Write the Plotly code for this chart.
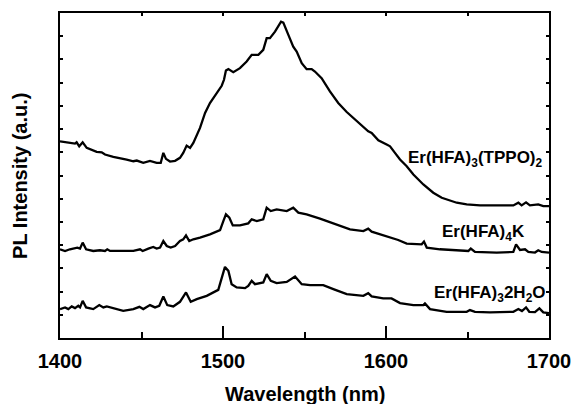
import plotly.graph_objects as go

# Wavelength (nm) and PL intensity (a.u.)
wl_tppo = [1400, 1409.2, 1410.2, 1411.8, 1413.9, 1416.4, 1422.5, 1425.6, 1427.6, 1432.7, 1440.9, 1445, 1447.1,
           1451.1, 1455.2, 1459.3, 1461.8, 1463.4, 1465, 1467.5, 1470.6, 1473.6, 1475.6, 1477.7, 1479.8, 1481.8,
           1485.9, 1489, 1492, 1496.1, 1499.2, 1500.6, 1501.8, 1503.3, 1506.3, 1510.4, 1514.5, 1517.6, 1521.7,
           1524.7, 1526.8, 1528.8, 1531.9, 1535.6, 1537, 1540.1, 1543.1, 1545.2, 1548.3, 1551.3, 1554.4, 1556.4,
           1560.5, 1565.6, 1570.7, 1575.9, 1581, 1586.1, 1589.1, 1591.2, 1595.3, 1600.4, 1602.5, 1605.5, 1608.6,
           1612.7, 1616.8, 1622.9, 1629, 1634.2, 1643.4, 1649.5, 1657.7, 1667.9, 1678.1, 1681.2, 1683.2, 1685.9,
           1688.3, 1693.4, 1696.5, 1700]
pl_tppo = [197.3, 195, 196.3, 192.3, 196.3, 190.7, 186.7, 186.3, 184, 181.7, 179, 177.3, 178,
           175.7, 177.7, 175.7, 175.7, 185.7, 179.7, 177, 177.7, 180.7, 185.7, 193, 190.7, 195.7,
           210.7, 225.7, 235.7, 245.7, 253, 259, 268.3, 269.7, 266.7, 270.7, 277.3, 284, 284,
           289, 300.7, 300.7, 307.3, 317.3, 316.3, 304, 292.3, 287.3, 275.7, 269.7, 269.7, 267.3,
           260.7, 247.3, 235.7, 226.7, 219, 212.3, 207.3, 205.7, 198.3, 194, 192.3, 185.7, 179,
           172.3, 164, 154, 145.7, 140.7, 135.7, 134, 133, 133, 133, 135.7, 133, 136,
           133, 134, 132.3, 132.3]

wl_k = [1400, 1403.1, 1406.1, 1409.2, 1410.6, 1412.3, 1413.9, 1416, 1420.4, 1424.5, 1427.6, 1429, 1430.7,
        1436.8, 1445, 1449.1, 1450.7, 1454.2, 1457.2, 1459.3, 1461.4, 1463.4, 1465.5, 1467.9, 1470.6, 1473.6,
        1475.6, 1477.3, 1479.3, 1481.8, 1485.9, 1492, 1498.2, 1500.2, 1501.8, 1503.9, 1506, 1510.4, 1515.5,
        1517.6, 1520.7, 1524.7, 1526.8, 1529.3, 1532.9, 1539.1, 1543.1, 1546.2, 1551.3, 1559.5, 1569.8, 1577.9,
        1586.1, 1589.1, 1591.2, 1600.4, 1607.5, 1612.7, 1621.9, 1623.3, 1625, 1633.1, 1645.4, 1650.5, 1652,
        1654.6, 1667.9, 1678.1, 1679.8, 1682.2, 1685.3, 1687.3, 1691.4, 1693.4, 1695.5, 1700]
pl_k = [89, 87.3, 89, 89.7, 90.7, 89.7, 95.7, 89, 87.3, 88, 87.3, 89, 87.3,
        87.3, 87.3, 89, 87.3, 89.7, 91.3, 89.7, 90.7, 97.3, 92.3, 90.7, 92.3, 97.3,
        99, 103, 97.3, 99, 100.7, 104, 108.3, 117.3, 124, 120.7, 113, 113, 115,
        119, 117.3, 119, 130.7, 127.3, 129, 127.3, 130.7, 125.7, 124, 119.7, 114, 109,
        107.3, 109.7, 106.7, 102.3, 98.3, 94.7, 94, 96.7, 90.7, 89, 87.3, 87.3, 89.7,
        86.3, 85.7, 86.3, 94, 88.3, 89, 86.3, 85.7, 88, 86.3, 85.7]

wl_h2o = [1400, 1403.1, 1405.1, 1407.2, 1409.2, 1411.2, 1412.3, 1413.9, 1416, 1420.4, 1424.1, 1426.6, 1428.7,
          1432.7, 1438.8, 1445, 1448.7, 1451.1, 1455.2, 1458.3, 1460.9, 1463.4, 1465.8, 1469.5, 1473.6, 1477.3,
          1480.2, 1483.9, 1490, 1497.1, 1499.2, 1501.2, 1503.3, 1505.3, 1508.4, 1513.5, 1515.5, 1517.6, 1519.6,
          1524.7, 1526.8, 1529.3, 1532.9, 1539.1, 1544.2, 1546.8, 1548.3, 1553.4, 1561.5, 1567.7, 1575.9, 1586.1,
          1589.1, 1591.2, 1598.3, 1603.4, 1608.6, 1616.8, 1622.9, 1623.9, 1627, 1637.2, 1649.5, 1651.5, 1654.6,
          1663.8, 1678.1, 1681.2, 1683.4, 1685.9, 1687.9, 1691.4, 1694.1, 1696.5, 1700]
pl_h2o = [29, 30.7, 29, 31.7, 30, 32.3, 30.7, 37.3, 30.7, 29, 33, 30.7, 31.7,
          29.7, 27.3, 29, 31.3, 29, 33, 30.7, 32.3, 41.7, 33, 31.7, 36.3, 45.7,
          36.3, 39, 42.3, 48.3, 59, 71.3, 67.3, 54, 50.7, 50, 52.3, 57.3, 54,
          55.7, 64, 57.3, 55, 56.3, 61.7, 57.3, 54, 53, 53, 49, 44, 42.3,
          45, 41.7, 39.7, 39.7, 35, 33, 33, 34.7, 29, 26.3, 26.3, 28, 26.3,
          25.7, 26.3, 29, 27, 30.7, 26.3, 26, 29.7, 25.7, 25]

x_ticks = [1400, 1500, 1600, 1700]
labels = ["Er(HFA)<sub>3</sub>(TPPO)<sub>2</sub>", "Er(HFA)<sub>4</sub>K", "Er(HFA)<sub>3</sub>2H<sub>2</sub>O"]
label_x = [1697.5, 1686.5, 1699.5]
label_y = [180, 105.5, 44.5]

FONT = "Liberation Sans, Arial, sans-serif"
Y_MAX = 326

fig = go.Figure()
for wl, pl in [(wl_tppo, pl_tppo), (wl_k, pl_k), (wl_h2o, pl_h2o)]:
    fig.add_trace(go.Scatter(x=wl, y=pl, mode="lines", line=dict(color="black", width=2.3),
                             showlegend=False, hoverinfo="skip"))

# invisible trace for top axis ticks
fig.add_trace(go.Scatter(x=[1400, 1700], y=[0, 0], xaxis="x2", mode="lines",
                         line=dict(width=0), showlegend=False, hoverinfo="skip"))

for t, lx, ly in zip(labels, label_x, label_y):
    fig.add_annotation(x=lx, y=ly, text="<b>" + t + "</b>", showarrow=False,
                       xanchor="right", yanchor="middle",
                       font=dict(family=FONT, size=17, color="black"))

fig.add_annotation(xref="paper", yref="paper", x=-0.083, y=0.5, text="<b>PL Intensity (a.u.)</b>",
                   textangle=-90, showarrow=False, xanchor="center", yanchor="middle",
                   font=dict(family=FONT, size=20, color="black"))
fig.add_annotation(xref="paper", yref="paper", x=0.5, y=-0.171, text="<b>Wavelength (nm)</b>",
                   showarrow=False, xanchor="center", yanchor="middle",
                   font=dict(family=FONT, size=20, color="black"))

fig.update_layout(
    width=574, height=404,
    margin=dict(l=60, r=25, t=13, b=66, autoexpand=False),
    paper_bgcolor="white", plot_bgcolor="white",
    xaxis=dict(range=[1400, 1700], tickvals=x_ticks, ticktext=[f"<b>{v}</b>" for v in x_ticks],
               ticks="inside", ticklen=12, tickwidth=1.5, tickcolor="black", automargin=False,
               ticklabelstandoff=4,
               minor=dict(dtick=50, tick0=1400, ticks="inside", ticklen=6, tickwidth=1.5, tickcolor="black"),
               showline=True, linecolor="black", linewidth=2, showgrid=False, zeroline=False,
               tickfont=dict(family=FONT, size=20, color="black")),
    xaxis2=dict(range=[1400, 1700], overlaying="x", side="top", dtick=50, tick0=1400, automargin=False,
                ticks="inside", ticklen=3, tickwidth=1.5, tickcolor="black", showticklabels=False,
                showline=True, linecolor="black", linewidth=2, showgrid=False, zeroline=False),
    yaxis=dict(range=[0, Y_MAX], tick0=0, dtick=Y_MAX / 14, ticks="inside", ticklen=3, tickwidth=1.5,
               tickcolor="black", showticklabels=False, mirror="ticks", automargin=False,
               showline=True, linecolor="black", linewidth=2, showgrid=False, zeroline=False),
)

fig.write_html("out.html")
